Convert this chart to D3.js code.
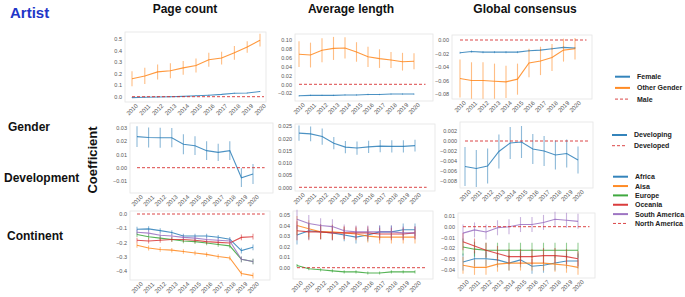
<!DOCTYPE html>
<html>
<head>
<meta charset="utf-8">
<script src="https://cdn.jsdelivr.net/npm/d3@7"></script>
<style>
  body { margin: 0; background: #fff; }
  svg { display: block; font-family: "Liberation Sans", Arial, sans-serif; }
  .axis text { fill: #555; font-size: 5.5px; }
  .axis.x text { font-size: 6px; }
</style>
</head>
<body>
<div id="chart"></div>
<script>
const years = [2010, 2011, 2012, 2013, 2014, 2015, 2016, 2017, 2018, 2019, 2020]

// Gender (reference = Male)
const pageFemale = [-0.008, -0.005, -0.002, 0.0, 0.003, 0.008, 0.013, 0.02, 0.03, 0.032, 0.045]
const pageFemaleErr = [0.004, 0.004, 0.004, 0.004, 0.004, 0.004, 0.004, 0.004, 0.004, 0.004, 0.004]
const pageOther = [0.155, 0.18, 0.215, 0.225, 0.25, 0.27, 0.32, 0.335, 0.38, 0.43, 0.49]
const pageOtherErr = [0.065, 0.07, 0.065, 0.065, 0.06, 0.06, 0.06, 0.055, 0.06, 0.05, 0.055]
const lenFemale = [-0.026, -0.025, -0.025, -0.025, -0.024, -0.024, -0.023, -0.023, -0.022, -0.022, -0.022]
const lenFemaleErr = [0.0015, 0.0015, 0.0015, 0.0015, 0.0015, 0.0015, 0.0015, 0.0015, 0.0015, 0.0015, 0.0015]
const lenOther = [0.068, 0.066, 0.077, 0.081, 0.082, 0.073, 0.062, 0.058, 0.055, 0.051, 0.052]
const lenOtherErr = [0.029, 0.028, 0.027, 0.026, 0.024, 0.022, 0.023, 0.021, 0.018, 0.02, 0.018]
const consFemale = [-0.019, -0.017, -0.018, -0.018, -0.018, -0.018, -0.016, -0.015, -0.013, -0.011, -0.012]
const consFemaleErr = [0.0015, 0.0015, 0.0015, 0.0015, 0.0015, 0.0015, 0.0015, 0.0015, 0.0015, 0.0015, 0.0015]
const consOther = [-0.057, -0.06, -0.06, -0.061, -0.062, -0.058, -0.034, -0.031, -0.026, -0.015, -0.013]
const consOtherErr = [0.028, 0.027, 0.027, 0.026, 0.024, 0.023, 0.021, 0.021, 0.02, 0.017, 0.016]

// Development (reference = Developed)
const pageDeveloping = [0.0233, 0.0226, 0.0225, 0.0225, 0.0176, 0.0165, 0.0128, 0.0115, 0.0128, -0.0075, -0.0047]
const pageDevelopingErr = [0.0078, 0.0075, 0.0075, 0.0072, 0.0075, 0.007, 0.007, 0.0065, 0.007, 0.007, 0.0075]
const lenDeveloping = [0.0221, 0.0218, 0.0207, 0.018, 0.0164, 0.016, 0.0165, 0.0168, 0.0167, 0.0167, 0.017]
const lenDevelopingErr = [0.0031, 0.003, 0.0033, 0.0025, 0.0025, 0.0027, 0.0025, 0.0025, 0.0025, 0.0025, 0.0024]
const consDeveloping = [-0.0051, -0.0055, -0.005, -0.0021, -0.0004, -0.0002, -0.0016, -0.002, -0.0028, -0.0025, -0.0038]
const consDevelopingErr = [0.0039, 0.0037, 0.0035, 0.0034, 0.0032, 0.0032, 0.003, 0.003, 0.0029, 0.0028, 0.0027]

// Continent (reference = North America)
const pageAfrica = [-0.108, -0.105, -0.117, -0.131, -0.155, -0.155, -0.155, -0.164, -0.178, -0.258, -0.235]
const pageAsia = [-0.22, -0.24, -0.25, -0.255, -0.265, -0.275, -0.285, -0.3, -0.31, -0.42, -0.435]
const pageEurope = [-0.145, -0.16, -0.17, -0.18, -0.19, -0.195, -0.205, -0.215, -0.225, -0.32, -0.335]
const pageOceania = [-0.185, -0.19, -0.185, -0.18, -0.18, -0.185, -0.195, -0.2, -0.205, -0.165, -0.16]
const pageSouthAm = [-0.129, -0.135, -0.15, -0.155, -0.165, -0.17, -0.18, -0.185, -0.19, -0.32, -0.335]
const pageContErr = [0.018, 0.018, 0.017, 0.016, 0.016, 0.016, 0.016, 0.016, 0.016, 0.02, 0.02]
const lenAfrica = [0.031, 0.035, 0.034, 0.033, 0.031, 0.029, 0.031, 0.034, 0.034, 0.036, 0.036]
const lenAsia = [0.04, 0.037, 0.034, 0.034, 0.033, 0.032, 0.03, 0.029, 0.029, 0.029, 0.029]
const lenEurope = [0.002, -0.001, -0.002, -0.003, -0.004, -0.004, -0.005, -0.005, -0.004, -0.004, -0.004]
const lenOceania = [0.035, 0.034, 0.034, 0.033, 0.033, 0.033, 0.033, 0.032, 0.032, 0.032, 0.033]
const lenSouthAm = [0.046, 0.042, 0.04, 0.039, 0.035, 0.034, 0.034, 0.034, 0.034, 0.033, 0.033]
const lenContErr = [0.009, 0.008, 0.007, 0.007, 0.006, 0.006, 0.006, 0.006, 0.006, 0.006, 0.006]
const lenEuropeErr = [0.0015, 0.0015, 0.0015, 0.0015, 0.0015, 0.0015, 0.0015, 0.0015, 0.0015, 0.0015, 0.0015]
const consAfrica = [-0.033, -0.03, -0.03, -0.031, -0.034, -0.031, -0.037, -0.036, -0.034, -0.032, -0.032]
const consAsia = [-0.036, -0.038, -0.038, -0.035, -0.034, -0.034, -0.034, -0.034, -0.035, -0.036, -0.038]
const consEurope = [-0.019, -0.021, -0.022, -0.022, -0.022, -0.022, -0.022, -0.022, -0.022, -0.022, -0.022]
const consOceania = [-0.014, -0.018, -0.022, -0.025, -0.028, -0.028, -0.028, -0.027, -0.027, -0.028, -0.03]
const consSouthAm = [-0.006, -0.003, -0.005, -0.001, 0.0, 0.002, 0.002, 0.004, 0.007, 0.006, 0.005]
const consContErr = [0.008, 0.007, 0.007, 0.007, 0.007, 0.007, 0.007, 0.007, 0.007, 0.007, 0.007]

const columnTitles = ["Page count", "Average length", "Global consensus"]
const rowTitles = ["Gender", "Development", "Continent"]
const genderLegend = ["Female", "Other Gender", "Male"]
const developmentLegend = ["Developing", "Developed"]
const continentLegend = ["Africa", "Aisa", "Europe", "Oceania", "South America", "North America"]

const blue = "#1f77b4", orange = "#ff7f0e", green = "#2ca02c", red = "#d62728", purple = "#9467bd"

function drawChart() {
  // Draw Canvas
    const svg = d3.select("#chart")
        .append("svg")
            .attr("width", 685)
            .attr("height", 297)

    const continentSeries = (a, b, c, d, e, err, errEu) => [
        {values: a, err: err, color: blue},
        {values: b, err: err, color: orange},
        {values: c, err: errEu || err, color: green},
        {values: d, err: err, color: red},
        {values: e, err: err, color: purple},
    ]

  // Panel layout (box = left, top, right, bottom)
    const panels = [
        {box: [125, 32, 266, 102], xr: [132, 260], yd: [0, 0.5], yr: [96.7, 39],
         ticks: [0, 0.1, 0.2, 0.3, 0.4, 0.5], fmt: ".1f",
         series: [{values: pageFemale, err: pageFemaleErr, color: blue}, {values: pageOther, err: pageOtherErr, color: orange}]},
        {box: [295, 34, 433, 101], xr: [299, 414], yd: [0, 0.1], yr: [84.3, 40],
         ticks: [-0.02, 0, 0.02, 0.04, 0.06, 0.08, 0.1], fmt: ".2f",
         series: [{values: lenFemale, err: lenFemaleErr, color: blue}, {values: lenOther, err: lenOtherErr, color: orange}]},
        {box: [452, 35, 592, 99], xr: [460, 575], yd: [0, -0.08], yr: [40, 94],
         ticks: [0, -0.02, -0.04, -0.06, -0.08], fmt: ".2f",
         series: [{values: consFemale, err: consFemaleErr, color: blue}, {values: consOther, err: consOtherErr, color: orange}]},
        {box: [130, 123, 273, 193], xr: [137, 253], yd: [0, 0.03], yr: [167.7, 127.7],
         ticks: [-0.01, 0, 0.01, 0.02, 0.03], fmt: ".2f",
         series: [{values: pageDeveloping, err: pageDevelopingErr, color: blue}]},
        {box: [295, 124, 435, 191], xr: [299, 415], yd: [0, 0.025], yr: [187.3, 126],
         ticks: [0, 0.005, 0.01, 0.015, 0.02, 0.025], fmt: ".3f",
         series: [{values: lenDeveloping, err: lenDevelopingErr, color: blue}]},
        {box: [460, 122, 593, 188], xr: [465, 578], yd: [0, 0.002], yr: [141, 131],
         ticks: [0.002, 0, -0.002, -0.004, -0.006, -0.008], fmt: ".3f",
         series: [{values: consDeveloping, err: consDevelopingErr, color: blue}]},
        {box: [130, 211, 270, 280], xr: [137, 253], yd: [0, -0.4], yr: [214, 270.7],
         ticks: [0, -0.1, -0.2, -0.3, -0.4], fmt: ".1f",
         series: continentSeries(pageAfrica, pageAsia, pageEurope, pageOceania, pageSouthAm, pageContErr)},
        {box: [293, 211, 433, 279], xr: [297, 415], yd: [0, 0.05], yr: [267.7, 215],
         ticks: [0, 0.01, 0.02, 0.03, 0.04, 0.05], fmt: ".2f",
         series: continentSeries(lenAfrica, lenAsia, lenEurope, lenOceania, lenSouthAm, lenContErr, lenEuropeErr)},
        {box: [458, 213, 595, 278], xr: [463, 578], yd: [0, 0.01], yr: [226.7, 216],
         ticks: [0.01, 0, -0.01, -0.02, -0.03, -0.04], fmt: ".2f",
         series: continentSeries(consAfrica, consAsia, consEurope, consOceania, consSouthAm, consContErr)},
    ]

    panels.forEach(p => {
        const [left, top, right, bottom] = p.box
        const xScale = d3.scaleLinear().domain([2010, 2020]).range(p.xr)
        const yScale = d3.scaleLinear().domain(p.yd).range(p.yr)
        const g = svg.append("g")

        g.append("rect")
            .attr("x", left)
            .attr("y", top)
            .attr("width", right - left)
            .attr("height", bottom - top)
            .attr("fill", "#fff")
            .attr("stroke", "#e4e4e4")
            .attr("stroke-width", 0.8)

        const yAxis = g.append("g")
            .attr("class", "axis y")
            .attr("transform", `translate(${left},0)`)
            .call(d3.axisLeft(yScale).tickValues(p.ticks).tickSize(0).tickPadding(3)
                .tickFormat(d3.format(p.fmt)))
        yAxis.select(".domain").remove()
        yAxis.selectAll("text").attr("fill", "#555")

        const xAxis = g.append("g")
            .attr("class", "axis x")
            .attr("transform", `translate(0,${bottom})`)
            .call(d3.axisBottom(xScale).tickValues(years).tickSize(0).tickFormat(d3.format("d")))
        xAxis.select(".domain").remove()
        xAxis.selectAll("text")
            .attr("y", 0)
            .attr("dy", 0)
            .attr("fill", "#555")
            .attr("text-anchor", "middle")
            .attr("transform", "translate(0,8) rotate(-45)")
            .attr("dominant-baseline", "middle")

        const lineGenerator = d3.line()
            .x((d, i) => xScale(years[i]))
            .y(d => yScale(d))

        p.series.forEach(s => {
            g.append("g")
                .selectAll("line")
                .data(s.values)
                .join("line")
                    .attr("x1", (d, i) => xScale(years[i]))
                    .attr("x2", (d, i) => xScale(years[i]))
                    .attr("y1", (d, i) => yScale(d - s.err[i]))
                    .attr("y2", (d, i) => yScale(d + s.err[i]))
                    .attr("stroke", s.color)
                    .attr("stroke-width", 1.1)
                    .attr("opacity", 0.5)
            g.append("path")
                .attr("d", lineGenerator(s.values))
                .attr("fill", "none")
                .attr("stroke", s.color)
                .attr("stroke-width", 1.1)
                .attr("opacity", 0.8)
        })

        // reference category sits at zero
        g.append("line")
            .attr("x1", xScale(2010))
            .attr("x2", Math.min(xScale(2021), right - 2))
            .attr("y1", yScale(0))
            .attr("y2", yScale(0))
            .attr("stroke", red)
            .attr("stroke-width", 1)
            .attr("stroke-dasharray", "3,2")
            .attr("opacity", 0.85)
    })

  // Titles
    svg.append("text")
        .attr("x", 10)
        .attr("y", 18)
        .text("Artist")
        .style("font-size", "15px")
        .attr("font-weight", 700)
        .attr("fill", "#2236c8")

    svg.selectAll(".col-title")
        .data(columnTitles)
        .join("text")
            .attr("x", (d, i) => [185, 351, 525][i])
            .attr("y", 13)
            .attr("text-anchor", "middle")
            .text(d => d)
            .style("font-size", "12px")
            .attr("font-weight", 700)
            .attr("fill", "#111")

    svg.selectAll(".row-title")
        .data(rowTitles)
        .join("text")
            .attr("x", (d, i) => [8, 4, 7][i])
            .attr("y", (d, i) => [131, 182, 240][i])
            .text(d => d)
            .style("font-size", "12px")
            .attr("font-weight", 700)
            .attr("fill", "#111")

    svg.append("text")
        .attr("transform", "translate(97,160) rotate(-90)")
        .attr("text-anchor", "middle")
        .text("Coefficient")
        .style("font-size", "13px")
        .attr("font-weight", 700)
        .attr("fill", "#111")

  // Legends
    const drawLegend = (names, colors, dashed, x, y0, step) => {
        const lg = svg.append("g")
        names.forEach((name, i) => {
            const y = y0 + i * step
            lg.append("line")
                .attr("x1", x)
                .attr("x2", x + 15)
                .attr("y1", y)
                .attr("y2", y)
                .attr("stroke", colors[i])
                .attr("stroke-width", dashed[i] ? 1 : 2)
                .attr("stroke-dasharray", dashed[i] ? "3,2" : null)
                .attr("opacity", dashed[i] ? 0.85 : 0.9)
            lg.append("text")
                .attr("x", x + 22)
                .attr("y", y)
                .attr("dy", "0.35em")
                .text(name)
                .style("font-size", "7px")
                .attr("font-weight", 700)
                .attr("fill", "#222")
        })
    }
    drawLegend(genderLegend, [blue, orange, red], [false, false, true], 615, 76.7, 11.2)
    drawLegend(developmentLegend, [blue, red], [false, true], 612, 135, 10.7)
    drawLegend(continentLegend, [blue, orange, green, red, purple, red],
        [false, false, false, false, false, true], 613, 176.7, 9.35)
}

drawChart()
</script>
</body>
</html>
